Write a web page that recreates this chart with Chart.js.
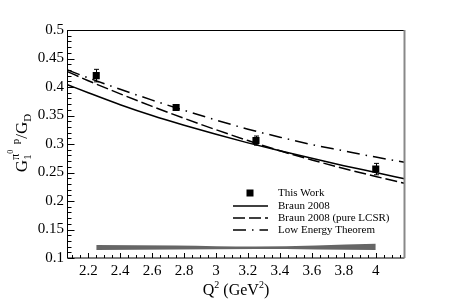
<!DOCTYPE html>
<html>
<head>
<meta charset="utf-8">
<script src="https://cdn.jsdelivr.net/npm/chart.js@4"></script>
<style>
  html, body { margin: 0; padding: 0; background: #fff; }
  #wrap { width: 450px; height: 305px; }
</style>
</head>
<body>
<div id="wrap"><canvas id="formFactorChart" width="450" height="305"></canvas></div>
<script>
// Measured points
const q2Data = [2.25, 2.75, 3.25, 4.0];
const ratioData = [0.420, 0.364, 0.306, 0.256];
const ratioErr = [0.011, 0.004, 0.008, 0.010];

// Theory curves
const curveQ2 = [2.07, 2.2, 2.4, 2.6, 2.8, 3.0, 3.2, 3.4, 3.6, 3.8, 4.0, 4.18];
const braunVals = [0.404, 0.390, 0.369, 0.350, 0.333, 0.317, 0.302, 0.288, 0.275, 0.262, 0.250, 0.239];
const lcsrVals = [0.427, 0.411, 0.388, 0.366, 0.345, 0.325, 0.306, 0.288, 0.272, 0.257, 0.243, 0.231];
const letVals = [0.430, 0.416, 0.396, 0.377, 0.359, 0.342, 0.326, 0.312, 0.299, 0.288, 0.277, 0.268];

// Systematic error band
const bandQ2 = [2.25, 2.75, 3.25, 4.0];
const bandLow = [0.114, 0.115, 0.116, 0.114];
const bandHigh = [0.123, 0.122, 0.120, 0.125];

// Axis ticks
const xTickVals = [2.2, 2.4, 2.6, 2.8, 3.0, 3.2, 3.4, 3.6, 3.8, 4.0];
const legendLabels = ['This Work', 'Braun 2008', 'Braun 2008 (pure LCSR)', 'Low Energy Theorem'];

const SERIF = "'Liberation Serif', 'Times New Roman', serif";

const toXY = (xs, ys) => xs.map((x, i) => ({ x: x, y: ys[i] }));
const fmt = v => String(Number(v.toFixed(2)));

// inward ticks + frame
const framePlugin = {
  id: 'frame',
  afterDraw(chart) {
    const { ctx, chartArea: a, scales: { x, y } } = chart;
    ctx.save();
    ctx.strokeStyle = '#000';
    ctx.lineWidth = 1;
    ctx.beginPath();
    for (let k = 42; k <= 83; k++) {
      const v = k * 0.05;
      const px = Math.round(x.getPixelForValue(v)) + 0.5;
      const len = (k % 4 === 0) ? 5 : 3;
      ctx.moveTo(px, a.bottom);
      ctx.lineTo(px, a.bottom - len);
    }
    for (let k = 10; k <= 50; k++) {
      const py = Math.round(y.getPixelForValue(k / 100)) + 0.5;
      const len = (k % 5 === 0) ? 7 : 4;
      ctx.moveTo(a.left, py);
      ctx.lineTo(a.left + len, py);
    }
    ctx.stroke();

    ctx.beginPath();
    ctx.moveTo(a.left, a.top + 0.5);
    ctx.lineTo(a.right, a.top + 0.5);
    ctx.moveTo(a.left, a.top);
    ctx.lineTo(a.left, a.bottom);
    ctx.lineTo(a.right, a.bottom);
    ctx.stroke();

    ctx.strokeStyle = '#888';
    ctx.lineWidth = 2;
    ctx.beginPath();
    ctx.moveTo(a.right, a.top);
    ctx.lineTo(a.right, a.bottom);
    ctx.stroke();
    ctx.restore();
  }
};

const errorBarPlugin = {
  id: 'errorBars',
  afterDatasetsDraw(chart) {
    const { ctx, scales: { x, y } } = chart;
    ctx.save();
    ctx.strokeStyle = '#000';
    ctx.lineWidth = 1;
    ctx.beginPath();
    q2Data.forEach((q, i) => {
      const px = Math.round(x.getPixelForValue(q)) + 0.5;
      const top = y.getPixelForValue(ratioData[i] + ratioErr[i]);
      const bot = y.getPixelForValue(ratioData[i] - ratioErr[i]);
      ctx.moveTo(px, top); ctx.lineTo(px, bot);
      ctx.moveTo(px - 2.5, top); ctx.lineTo(px + 2.5, top);
      ctx.moveTo(px - 2.5, bot); ctx.lineTo(px + 2.5, bot);
    });
    ctx.stroke();
    ctx.restore();
  }
};

// draws a run of [text, size, dy] pieces; stacked sub/sup handled by 'stack' flag
function drawPieces(ctx, pieces, cx, baseY) {
  const measure = p => { ctx.font = p[1] + 'px ' + SERIF; return ctx.measureText(p[0]).width; };
  let total = 0, stackStart = null;
  const xs = [];
  pieces.forEach(p => {
    if (p[3] === 'sub') { stackStart = total; xs.push(total); total += measure(p); return; }
    if (p[3] === 'sup') { const sx = stackStart !== null ? stackStart : total; xs.push(sx); total = Math.max(total, sx + measure(p)); stackStart = null; return; }
    xs.push(total); total += measure(p);
  });
  const x0 = cx - total / 2;
  pieces.forEach((p, i) => {
    ctx.font = p[1] + 'px ' + SERIF;
    ctx.fillText(p[0], x0 + xs[i], baseY + p[2]);
  });
}

const titlePlugin = {
  id: 'axisTitles',
  afterDraw(chart) {
    const { ctx, chartArea: a } = chart;
    ctx.save();
    ctx.fillStyle = '#000';
    ctx.textBaseline = 'alphabetic';
    ctx.textAlign = 'left';
    drawPieces(ctx, [['Q', 16, 0], ['2', 10, -7], [' (GeV', 16, 0], ['2', 10, -7], [')', 16, 0]],
      (a.left + a.right) / 2, 295);

    ctx.translate(27, 143);
    ctx.rotate(-Math.PI / 2);
    drawPieces(ctx, [['G', 17, 0], ['1', 11, 4, 'sub'], ['π', 12, -8, 'sup'], ['0', 8, -14], ['  p', 11, -8], ['/G', 17, 0], ['D', 11, 4]], 0, 0);
    ctx.restore();
  }
};

const legendPlugin = {
  id: 'innerLegend',
  afterDraw(chart) {
    const { ctx } = chart;
    const rows = [193, 206, 218, 230];
    ctx.save();
    ctx.font = '11px ' + SERIF;
    ctx.textBaseline = 'middle';
    ctx.fillStyle = '#000';
    rows.forEach((ry, i) => {
      const ds = chart.data.datasets[i];
      if (i === 0) {
        ctx.fillRect(246.5, ry - 3.5, 7, 7);
      } else {
        ctx.strokeStyle = ds.borderColor;
        ctx.lineWidth = ds.borderWidth;
        ctx.setLineDash(ds.borderDash || []);
        ctx.beginPath();
        ctx.moveTo(233, ry);
        ctx.lineTo(268, ry);
        ctx.stroke();
        ctx.setLineDash([]);
      }
      ctx.fillText(legendLabels[i], 278, ry);
    });
    ctx.restore();
  }
};

const lineBase = { showLine: true, pointRadius: 0, borderWidth: 1.5, borderColor: '#000', fill: false, cubicInterpolationMode: 'monotone' };

new Chart(document.getElementById('formFactorChart'), {
  type: 'scatter',
  data: {
    datasets: [
      { label: legendLabels[0], data: toXY(q2Data, ratioData), pointStyle: 'rect', pointRadius: 5, backgroundColor: '#000', borderColor: '#000', borderWidth: 0, showLine: false },
      Object.assign({ label: legendLabels[1], data: toXY(curveQ2, braunVals) }, lineBase),
      Object.assign({ label: legendLabels[2], data: toXY(curveQ2, lcsrVals), borderDash: [12, 4] }, lineBase),
      Object.assign({ label: legendLabels[3], data: toXY(curveQ2, letVals), borderDash: [13, 6, 1.5, 6] }, lineBase),
      { label: 'band low', data: toXY(bandQ2, bandLow), showLine: true, pointRadius: 0, borderWidth: 0, borderColor: '#666', fill: false, cubicInterpolationMode: 'monotone' },
      { label: 'band high', data: toXY(bandQ2, bandHigh), showLine: true, pointRadius: 0, borderWidth: 0, borderColor: '#666', backgroundColor: '#666', fill: '-1', cubicInterpolationMode: 'monotone' }
    ]
  },
  options: {
    responsive: false,
    animation: false,
    events: [],
    layout: { padding: { left: 0, top: 30, right: 45.5, bottom: 0 } },
    plugins: { legend: { display: false }, tooltip: { enabled: false } },
    scales: {
      x: {
        type: 'linear',
        min: 2.07,
        max: 4.18,
        afterFit: s => { s.height = 47; },
        afterBuildTicks: s => { s.ticks = xTickVals.map(v => ({ value: v })); },
        grid: { display: false, drawTicks: false },
        border: { display: false },
        ticks: { autoSkip: false, maxRotation: 0, padding: 4, color: '#000', font: { family: SERIF, size: 15 }, callback: v => fmt(v) }
      },
      y: {
        min: 0.1,
        max: 0.5,
        afterFit: s => { s.width = 67.5; },
        grid: { display: false, drawTicks: false },
        border: { display: false },
        ticks: { stepSize: 0.05, padding: 3.5, color: '#000', font: { family: SERIF, size: 15 }, callback: v => fmt(v) }
      }
    }
  },
  plugins: [framePlugin, errorBarPlugin, titlePlugin, legendPlugin]
});
</script>
</body>
</html>
